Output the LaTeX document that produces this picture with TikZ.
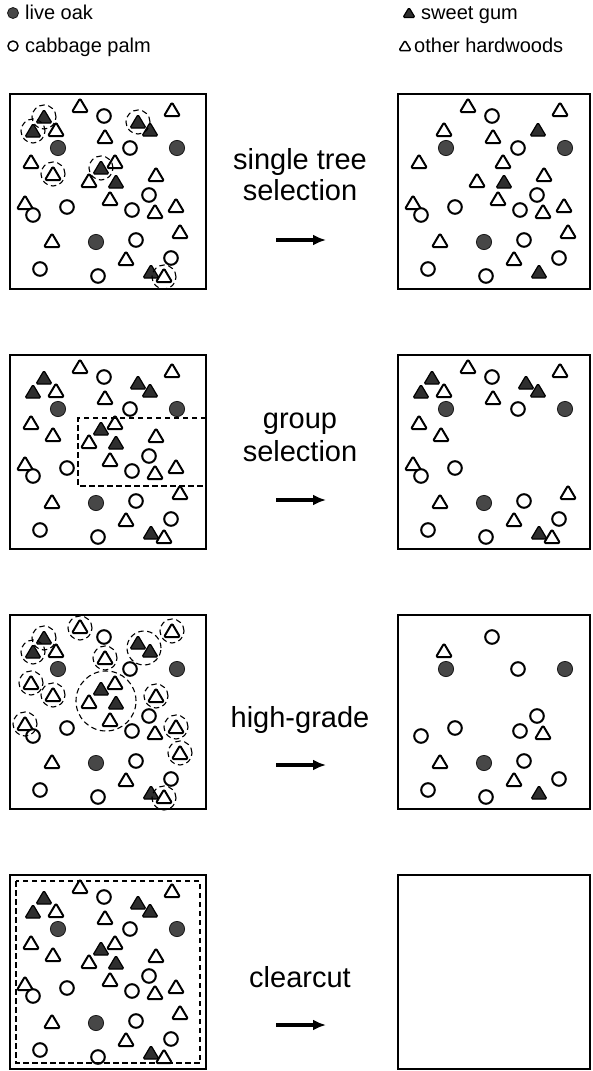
\documentclass[tikz,border=0pt]{standalone}
\usepackage{fontspec}
\setmainfont{Liberation Sans}
\usetikzlibrary{arrows.meta}
\tikzset{
  treeline/.style={draw=black,line width=2pt,line join=round,rounded corners=1.4pt,fill=white},
  oakfill/.style={fill=black!72,draw=black!90,line width=0.8pt},
  gumfill/.style={fill=black!82,draw=black,line width=1.2pt,line join=round,rounded corners=1.4pt},
  frame/.style={draw=black,line width=2.6pt},
  cut/.style={draw=black,line width=1.1pt,dash pattern=on 5.5pt off 3.5pt},
  title/.style={font=\fontsize{29}{33}\selectfont,anchor=base,inner sep=0pt},
  legend/.style={font=\fontsize{20}{24}\selectfont,anchor=base west,inner sep=0pt},
  goes/.style={line width=3.2pt,-{Latex[length=13pt,width=11pt]}}
}
\newcommand\treehw[2]{\path[treeline,shift={(#1,#2)}] (-8,6) -- (8,6) -- (0,-7.5) -- cycle;}
\newcommand\treecp[2]{\path[treeline,shift={(#1,#2)}] (0,0) circle (6.8pt);}
\newcommand\treelo[2]{\path[oakfill,shift={(#1,#2)}] (0,0) circle (7.6pt);}
\newcommand\treesg[2]{\path[gumfill,shift={(#1,#2)}] (-8,6) -- (8,6) -- (0,-7.5) -- cycle;}
\makeatletter
\newcommand\stand[3]{%
  \begin{scope}[shift={(#1,#2)}]
  \foreach \n/\k/\a/\b in {1/hw/70/12, 2/cp/94/22, 3/hw/162/16, 4/sg/34/23, 5/sg/23/37,
     6/hw/46/36, 7/sg/128/28, 8/sg/140/36, 9/hw/95/43, 10/lo/48/54, 11/cp/120/54,
     12/lo/167/54, 13/hw/21/68, 14/hw/105/68, 15/sg/91/74, 16/hw/43/80, 17/hw/79/87,
     18/sg/106/88, 19/hw/146/81, 20/cp/139/101, 21/hw/15/109, 22/cp/23/121, 23/cp/57/113,
     24/hw/100/105, 25/cp/122/116, 26/hw/145/118, 27/hw/166/112, 28/hw/170/138,
     29/hw/42/147, 30/lo/86/148, 31/cp/126/146, 32/hw/116/165, 33/cp/161/164,
     34/cp/30/175, 35/cp/88/182, 36/sg/141/178, 37/hw/154/182}{%
    \edef\tmp{\noexpand\in@{,\n,}{,#3,}}\tmp
    \ifin@\else\csname tree\k\endcsname{\a}{\b}\fi
  }
  \end{scope}}
\makeatother
\begin{document}
\begin{tikzpicture}[x=1pt,y=-1pt]
\useasboundingbox (0,0) rectangle (592,1071);
% legend
\path[oakfill] (13,13) circle (5.5pt);
\node[legend] (lo) at (25,19) {live oak};
\path[treeline,line width=1.5pt] (13,46) circle (5pt);
\node[legend] (cp) at (25,52) {cabbage palm};
\path[gumfill,shift={(409,13)}] (-6,4.5) -- (6,4.5) -- (0,-5.5) -- cycle;
\node[legend] (sg) at (421,19) {sweet gum};
\path[treeline,line width=1.5pt,shift={(405,46)}] (-6,4.5) -- (6,4.5) -- (0,-5.5) -- cycle;
\node[legend] (hw) at (414,52) {other hardwoods};

% ---------- row 1: single tree selection
\stand{10}{94}{}
\begin{scope}[shift={(10,94)}]
  \foreach \a/\b in {34/23,23/37,128/28,91/74,43/80,154/183}{\draw[cut] (\a,\b) circle (12pt);}
\end{scope}
\draw[frame] (10,94) rectangle (206,289);
\stand{398}{94}{4,5,7,15,16,37}
\draw[frame] (398,94) rectangle (590,289);
\node[title] (t1a) at (300,169) {single tree};
\node[title] (t1b) at (300,200) {selection};
\coordinate (a1s) at (276,240); \coordinate (a1e) at (326,240);
\draw[goes] (a1s) -- (a1e);

% ---------- row 2: group selection
\stand{10}{355}{}
\draw[cut] (206,418) -- (78,418) -- (78,486) -- (206,486);
\draw[frame] (10,355) rectangle (206,549);
\stand{398}{355}{14,15,17,18,19,20,24,25,26,27}
\draw[frame] (398,355) rectangle (590,549);
\node[title] (t2a) at (300,428) {group};
\node[title] (t2b) at (300,461) {selection};
\coordinate (a2s) at (276,500); \coordinate (a2e) at (326,500);
\draw[goes] (a2s) -- (a2e);

% ---------- row 3: high-grade
\stand{10}{615}{}
\begin{scope}[shift={(10,615)}]
  \foreach \a/\b in {34/23,23/37,70/13,162/16,95/43,21/68,43/80,146/81,15/109,166/112,170/138,154/183}{\draw[cut] (\a,\b) circle (12pt);}
  \draw[cut] (134,33) circle (17pt);
  \draw[cut] (96,86) circle (30pt);
\end{scope}
\draw[frame] (10,615) rectangle (206,809);
\stand{398}{615}{1,3,4,5,7,8,9,13,14,15,16,17,18,19,21,24,27,28,37}
\draw[frame] (398,615) rectangle (590,809);
\node[title] (t3) at (300,727) {high-grade};
\coordinate (a3s) at (276,765); \coordinate (a3e) at (326,765);
\draw[goes] (a3s) -- (a3e);

% ---------- row 4: clearcut
\stand{10}{875}{}
\draw[cut] (16,881) rectangle (200,1063);
\draw[frame] (10,875) rectangle (206,1069);
\draw[frame] (398,875) rectangle (590,1069);
\node[title] (t4) at (300,987) {clearcut};
\coordinate (a4s) at (276,1025); \coordinate (a4e) at (326,1025);
\draw[goes] (a4s) -- (a4e);
\end{tikzpicture}
\end{document}
